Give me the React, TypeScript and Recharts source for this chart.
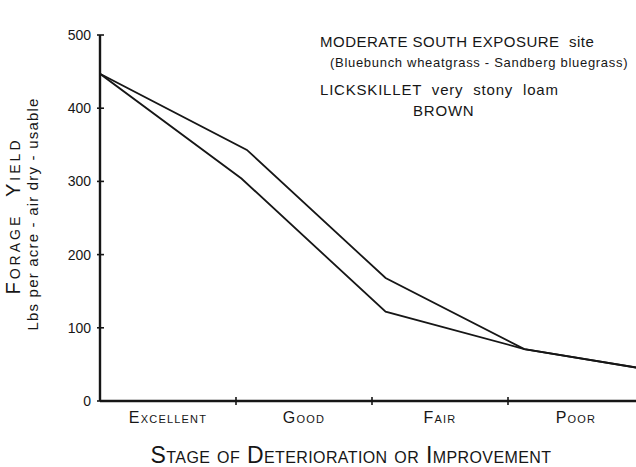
import { LineChart, Line, XAxis, YAxis } from "recharts";

// stage bands sit between integer positions on the x axis (0-1 Excellent, 1-2 Good ...)
const stages = ["Excellent", "Good", "Fair", "Poor"];
const stageLabelTicks = [0.5, 1.5, 2.5, 3.5];
const stageBoundaryTicks = [1, 2, 3];
const yieldTicks = [0, 100, 200, 300, 400, 500];

const upperX = [0, 1.08, 2.1, 3.12, 4];
const upperYield = [447, 343, 168, 71, 44];
const lowerX = [0, 1.04, 2.1, 3.12, 4];
const lowerYield = [447, 304, 122, 71, 44];

const INK = "#161616";
const FONT = "'Liberation Sans', 'DejaVu Sans', sans-serif";

const upperData = upperX.map((x, i) => ({ x, y: upperYield[i] }));
const lowerData = lowerX.map((x, i) => ({ x, y: lowerYield[i] }));

function StageTick(props: any) {
  const { x, y, payload } = props;
  const v = payload.value as number;
  if (Number.isInteger(v)) {
    return <line x1={x} x2={x} y1={y - 4} y2={y + 4} stroke={INK} strokeWidth={1.6} />;
  }
  return (
    <text
      x={x}
      y={y + 22}
      textAnchor="middle"
      fill={INK}
      fontFamily={FONT}
      fontSize={16}
      style={{ fontVariant: "small-caps", letterSpacing: "1.2px" }}
    >
      {stages[Math.floor(v)]}
    </text>
  );
}

function YieldTick(props: any) {
  const { x, y, payload } = props;
  return (
    <g>
      <line x1={x - 3} x2={x + 4} y1={y} y2={y} stroke={INK} strokeWidth={1.6} />
      <text x={x - 9} y={y + 5} textAnchor="end" fill={INK} fontFamily={FONT} fontSize={14}>
        {payload.value}
      </text>
    </g>
  );
}

const note: React.CSSProperties = {
  position: "absolute",
  fontFamily: FONT,
  color: INK,
  whiteSpace: "pre",
  lineHeight: 1,
};

export default function App() {
  return (
    <div
      style={{
        position: "absolute",
        left: 0,
        top: 0,
        width: 636,
        height: 467,
        overflow: "hidden",
        background: "#fff",
      }}
    >
      <LineChart width={662} height={467} margin={{ top: 35, right: 18, bottom: 0, left: 0 }}>
        <XAxis
          type="number"
          dataKey="x"
          domain={[0, 4]}
          ticks={[...stageLabelTicks, ...stageBoundaryTicks].sort((a, b) => a - b)}
          interval={0}
          tick={<StageTick />}
          tickLine={false}
          tickSize={0}
          tickMargin={0}
          height={66}
          axisLine={{ stroke: INK, strokeWidth: 2.4 }}
          allowDataOverflow
        />
        <YAxis
          type="number"
          domain={[0, 500]}
          ticks={yieldTicks}
          interval={0}
          tick={<YieldTick />}
          tickLine={false}
          tickSize={0}
          tickMargin={0}
          width={100}
          axisLine={{ stroke: INK, strokeWidth: 2.4 }}
        />
        <Line
          data={upperData}
          dataKey="y"
          type="linear"
          stroke={INK}
          strokeWidth={1.8}
          dot={false}
          isAnimationActive={false}
        />
        <Line
          data={lowerData}
          dataKey="y"
          type="linear"
          stroke={INK}
          strokeWidth={1.8}
          dot={false}
          isAnimationActive={false}
        />
      </LineChart>

      <div style={{ ...note, left: 320, top: 34, fontSize: 15, letterSpacing: "0.5px" }}>
        MODERATE SOUTH EXPOSURE  site
      </div>
      <div style={{ ...note, left: 330, top: 56, fontSize: 13, letterSpacing: "0.7px" }}>
        (Bluebunch wheatgrass - Sandberg bluegrass)
      </div>
      <div style={{ ...note, left: 320, top: 82, fontSize: 15, letterSpacing: "0.8px" }}>
        LICKSKILLET  very  stony  loam
      </div>
      <div style={{ ...note, left: 413, top: 103, fontSize: 15, letterSpacing: "0.8px" }}>BROWN</div>

      <div
        style={{
          ...note,
          left: 13,
          top: 216,
          fontSize: 20,
          fontVariant: "small-caps",
          letterSpacing: "3px",
          transform: "translate(-50%, -50%) rotate(-90deg)",
        }}
      >
        Forage  Yield
      </div>
      <div
        style={{
          ...note,
          left: 32,
          top: 214,
          fontSize: 15,
          letterSpacing: "1.2px",
          transform: "translate(-50%, -50%) rotate(-90deg)",
        }}
      >
        Lbs per acre - air dry - usable
      </div>

      <div
        style={{
          ...note,
          left: 351,
          top: 455,
          fontSize: 23,
          fontVariant: "small-caps",
          letterSpacing: "0.4px",
          transform: "translate(-50%, -50%)",
        }}
      >
        Stage of Deterioration or Improvement
      </div>
    </div>
  );
}
